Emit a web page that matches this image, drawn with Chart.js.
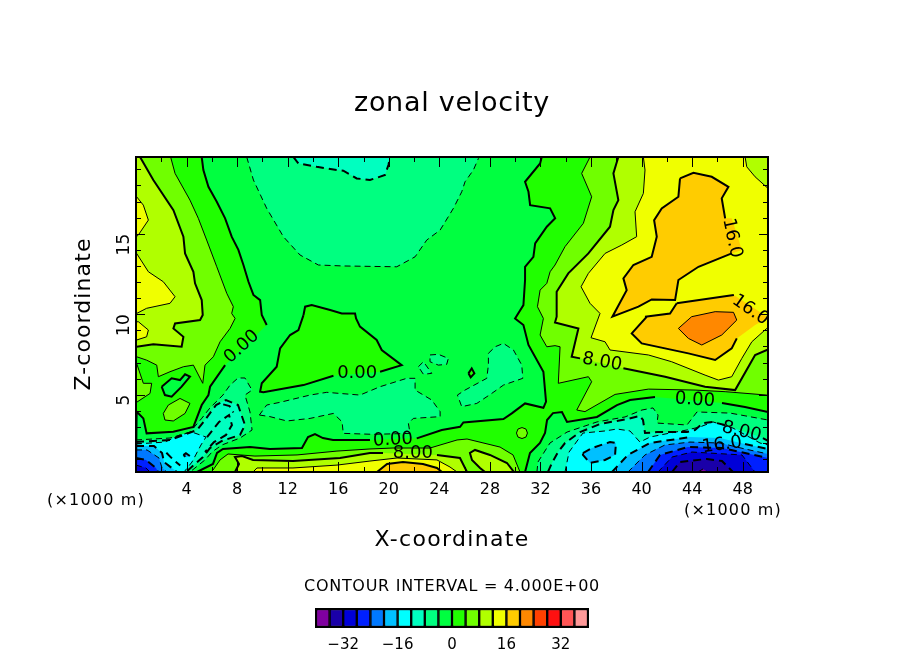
<!DOCTYPE html>
<html>
<head>
<meta charset="utf-8">
<title>zonal velocity</title>
<script src="https://cdn.jsdelivr.net/npm/chart.js@4"></script>
<style>
  body { margin: 0; background: #fff; }
  #plot { position: absolute; left: 0; top: 0; }
  #bar { position: absolute; left: 306px; top: 600px; }
</style>
</head>
<body>
<canvas id="plot" width="904" height="654"></canvas>
<canvas id="bar" width="292" height="54"></canvas>
<script>
// Colour bins, lower edge -40 in steps of 4
const binEdges = [-40, -36, -32, -28, -24, -20, -16, -12, -8, -4, 0, 4, 8, 12, 16, 20, 24, 28, 32, 36];
const binColors = ['#8000a0', '#1a00a8', '#0000d8', '#0020ff', '#0078ff', '#00c0ff', '#00ffff', '#00ffc0', '#00ff80', '#00ff40',
  '#20ff00', '#70ff00', '#b0ff00', '#f0ff00', '#ffcc00', '#ff8800', '#ff4000', '#ff1010', '#ff5555', '#ff9999'];
const barTicks = [-32, -16, 0, 16, 32];
const xTicks = [4, 8, 12, 16, 20, 24, 28, 32, 36, 40, 44, 48];
const zTicks = [5, 10, 15];

// Contours, flat x,z pairs (x in 1000 m)
const plotBase = [0,0.2, 50,0.2, 50,19.77, 0,19.77];

const negCentral = [5.2,19.77, 5.33,18.96, 5.73,17.92, 6.38,17, 7.05,15.96, 7.57,14.82, 8.1,14, 8.5,13.06, 8.9,12.02, 9.29,11.2, 9.82,10.88, 9.95,9.95,
  10.34,9.33, 7.05,6.84, 5.86,5.5, 5.73,4.98, 5.2,4.36, 4.54,3, 2.95,2.7, 0.84,2.6, 0.58,3.53, 0.05,3.95, 0,3.95, 0,0.2, 4.83,0.2,
  6.09,0.7, 6.41,1.38, 6.88,1.63, 9.02,1.75, 10.6,1.63, 13.13,1.69, 13.61,2.37, 14.16,2.56, 14.79,2.31, 15.59,2.19, 18.51,2.19,
  22.21,2.29, 24.19,2.81, 25.64,3.01, 25.9,3.28, 29.07,3.49, 29.73,3.84, 30.78,4.46, 32.23,4.19, 32.44,4.57, 32.23,6.43, 31.05,8.09, 30.65,9.33, 29.99,9.74,
  30.65,10.57, 30.78,12.13, 30.78,12.95, 31.44,13.57, 31.58,14.4, 32.5,15.44, 33.16,15.96, 32.76,16.58, 31.18,16.78, 31.05,17.61, 30.78,18.23, 31.97,19.37, 32.1,19.77];
const negRight = [30.78,0.2, 31.17,1.38, 31.96,2, 32.36,2.62, 32.52,3.43, 32.99,3.86, 33.7,3.93, 34.1,3.31, 36.47,3.62, 38.05,4.36, 39.08,4.67, 41.06,4.86,
  46.36,4.49, 48.18,4.24, 50,3.93, 50,0.2];

const topBlob4 = [8.76,19.77, 9.29,18.34, 10.34,16.58, 11.66,14.82, 12.98,13.68, 14.43,13.06, 16.41,13, 20.63,12.95, 22.08,13.57, 23,14.61, 24.06,15.23, 25.11,16.58, 25.77,17.61, 26.03,18.23, 26.69,18.96, 27.09,19.68, 27.2,19.77];
const topBlob8 = [12.45,19.77, 12.85,19.37, 14.3,19.16, 15.88,18.96, 16.4,18.92, 17.46,18.44, 18.51,18.34, 19.7,18.65, 19.97,19.27, 20.1,19.77];
const midBlob4 = [9.76,3.74, 10.6,3.64, 11.93,3.37, 13.77,3.53, 15.62,3.84, 16.3,3.32, 16.4,2.6, 18.78,2.54, 21.68,2.6, 21.55,3.22, 21.94,3.53, 24.06,3.64, 24.06,3.95, 23.4,4.67, 22.08,5.29, 22.08,6.02, 21.42,6.02, 19.31,5.5, 17.72,4.98, 16.14,5.08, 15.09,5.15, 13.77,4.98, 11.4,4.53, 10.34,4.36];
const rightBlob4 = [27.88,7.57, 28.41,7.98, 29.07,8.19, 29.86,7.78, 30.52,6.84, 30.6,6.02, 29.07,5.6, 28.14,5.08, 26.96,4.46, 25.77,4.26, 25.43,4.98, 26.03,5.29, 27.75,6.02, 27.88,6.84];
const speck4a = [23.26,7.47, 23.92,7.51, 24.71,7.26, 24.58,6.89, 23.92,6.84, 23.26,7.05];
const speck4b = [22.34,6.74, 22.74,7.05, 23.4,6.33, 22.74,6.27];
const island0 = [13.25,9.95, 13.38,10.47, 13.9,10.57, 15.36,10.26, 16.28,10.05, 17.33,10.05, 17.41,9.74, 17.72,9.23, 19.04,8.4, 19.44,7.78, 21.02,6.84, 19.31,6.43, 15.62,6.18, 13.25,5.6, 10.08,5.15, 9.82,5.19, 9.95,5.71, 11.13,6.74, 11.4,7.88, 12.19,8.71, 12.85,9.02];
const dot0 = [26.3,6.33, 26.56,6.64, 26.77,6.33, 26.48,6.08];

// lower left cold corner
const cornerL4 = [0,2.19, 2.69,2.31, 4.27,2.68, 5.22,3.55, 5.85,4.18, 6.88,4.98, 7.44,5.6, 8.07,6.04, 8.62,6.04, 9.18,5.29, 8.62,4.98, 9.02,3.93, 9.18,2.81, 8.23,2.31, 6.8,1.88, 6.01,1.44, 5.46,0.95, 4.27,0.2, 0,0.2];
const cornerL8 = [0,2.06, 2.69,2.19, 4.83,2.81, 5.46,3.43, 6.33,4.36, 7.12,4.67, 8.07,4.36, 8.62,3.12, 8.23,2.5, 6.8,2.13, 5.85,1.69, 5.3,1.13, 3.96,0.2, 0,0.2];
const cornerL12 = [0,1.94, 2.29,2.06, 3.48,2.5, 4.43,2.68, 5.54,2.37, 5.14,1.88, 4.43,0.82, 3.8,0.2, 0,0.2];
const cornerL16 = [0,1.81, 1.42,1.81, 2.06,1.38, 2.22,0.82, 3.24,0.2, 0,0.2];
const cornerL20 = [0,1.57, 0.87,1.57, 1.82,1.07, 2.06,0.45, 2.45,0.2, 0,0.2];
const cornerL24 = [0,1.07, 0.79,0.95, 1.58,0.45, 1.74,0.2, 0,0.2];
const cornerL28 = [0,0.63, 0.79,0.45, 1.11,0.2, 0,0.2];
const knot16 = [3.75,1.25, 3.95,1.37, 4.27,1.19, 3.95,1.12];

// lower right cold corner
const cornerR4 = [31.72,0.2, 31.8,0.82, 32.75,2, 34.1,2.68, 36.47,3.31, 38.69,3.62, 40.03,4.05, 40.9,4.18, 41.3,3.74, 41.22,3.24, 43.59,3.12, 44.38,3.93, 47,3.86, 50,3.43, 50,0.2];
const cornerR8 = [32.59,0.2, 32.91,0.76, 33.39,1.44, 33.94,2, 35.13,2.68, 36.71,3.18, 38.84,3.49, 39.87,3.68, 40.11,3.43, 40.27,2.62, 41.22,2.68, 43.59,2.68, 44.22,2.81, 44.86,3.24, 45.57,3.31, 46.6,3.12, 49.6,2.31, 50,2.13, 50,0.2];
const cornerR12 = [33.94,0.2, 34.26,1.44, 35.36,2.62, 37.1,2.75, 38.05,2.87, 39.08,2.75, 39.87,2.06, 40.66,2.37, 42.25,2.62, 43.59,2.81, 44.62,3, 45.65,3.31, 47.23,2.93, 49.37,2, 50,1.88, 50,0.2];
const patchR16 = [35.36,1.38, 36.08,1.69, 37.5,2.06, 37.97,2, 37.9,1.26, 37.1,0.95, 35.92,0.76, 35.36,1.26];
const cornerR16 = [37.66,0.2, 38.92,1.26, 40.66,2, 43.83,2.37, 46.2,2.31, 48.18,1.94, 50,1.63, 50,0.2];
const cornerR20 = [38.92,0.2, 40.27,1.26, 41.85,1.88, 43.83,2.06, 46.2,2, 48.18,1.63, 50,1.32, 50,0.2];
const cornerR24 = [40.51,0.2, 41.46,1.26, 43.67,1.75, 46.36,1.69, 50,1.07, 50,0.2];
const cornerR28 = [41.3,0.2, 42.41,1.13, 43.99,1.44, 47.94,1.26, 48.97,0.2];
const cornerR32 = [42.41,0.2, 43.04,0.82, 45.17,1.01, 46.36,0.88, 47.23,0.2];
const cornerR36 = [44.46,0.2, 44.86,0.39, 45.25,0.2];

// warm upper left
const left4 = [2.74,19.77, 3.09,18.75, 4.27,17.09, 4.93,15.96, 5.59,14.61, 6.39,12.95, 7.18,11.3, 7.7,10.47, 7.57,10.05, 7.84,9.74, 7.44,9.12, 6.65,8.29, 6.12,7.36, 5.46,6.84, 5.28,5.71, 4.54,6.84, 3.75,6.74, 2.69,6.43, 1.77,6.12, 1.64,6.84, 0.84,7.15, 0.05,7.36, 0,7.36, 0,19.77];
const leftLobe4 = [0.05,6.95, 0.58,5.71, 1.24,5.71, 1.11,5.08, 0.05,4.53, 0,4.53, 0,6.95];
const leftOval4 = [2.16,3.84, 2.56,4.36, 3.48,4.77, 4.27,4.46, 3.88,3.84, 2.95,3.37, 2.29,3.43];
const leftLoop0 = [2.03,5.5, 2.82,6.02, 3.48,5.91, 3.88,6.27, 4.27,6.12, 3.61,5.5, 2.82,4.88, 2.29,4.98];
const left8 = [0.32,19.77, 1.37,18.34, 2.96,16.47, 3.75,14.82, 3.88,13.78, 4.54,12.64, 4.67,11.92, 5.2,10.88, 5.28,9.95, 5.07,9.64, 3.09,9.43, 2.96,9.12, 3.75,8.6, 3.61,7.98, 1.37,8.13, 0.05,7.98, 0,7.98, 0,19.77];
const left12a = [0.05,17.3, 0.58,16.78, 0.98,15.85, 0.18,14.92, 0,14.8, 0,17.3];
const left12b = [0.05,13.78, 0.98,12.64, 2.16,12.02, 3.09,11.09, 2.69,10.68, 0.84,10.37, 0.05,10.05, 0,10.05, 0,13.78];
const left12c = [0.18,9.54, 0.98,9.02, 0.84,8.6, 0.05,8.4, 0,8.4, 0,9.52];

// warm right side
const right4 = [35.92,19.77, 35.26,18.75, 36.05,17.3, 35.39,15.65, 33.94,14.2, 33.15,13.06, 32.76,12.64, 32.5,11.92, 31.97,11.5, 31.76,10.47, 32.23,9.74, 31.97,8.71, 32.5,7.98, 33.15,8.05, 33.55,7.98, 33.41,5.71, 35.79,6.12, 36.05,5.81, 34.87,4.05, 35.52,3.95, 37.9,5.02, 40.54,5.35, 44.23,5.29, 46.61,5.19, 49.9,4.98, 50,4.98, 50,19.77];
const right8 = [38.16,19.77, 37.77,18.75, 38.16,17.09, 37.77,16.47, 37.5,15.44, 35.79,13.78, 34.2,12.54, 33.28,11.4, 33.28,9.85, 33.15,9.49, 35,9.12, 34.47,7.36, 35.13,7.26, 38.56,6.64, 41.86,6.12, 45.02,5.5, 47.4,5.29, 48.98,7.47, 49.9,7.78, 50,7.78, 50,19.77];
const right12 = [40.14,19.77, 40.27,18.96, 40.14,17.51, 39.48,16.37, 39.61,14.82, 38.43,14.3, 37.11,13.78, 35.79,12.54, 35.21,11.71, 35.92,10.68, 36.71,10.05, 36,8.54, 37.11,8.29, 37.5,7.78, 40.54,7.47, 42.38,7.05, 45.02,6.22, 46.08,5.91, 47.13,6.12, 47.93,7.26, 48.72,8.29, 49.9,9.12, 50,9.12, 50,17.82, 48.98,18.54, 48.32,19.16, 48.19,19.77];
const right16a = [43.04,18.44, 44.1,18.79, 45.55,18.54, 46.87,17.92, 46.34,17.2, 46.61,15.96, 47.13,15.96, 47.93,13.99, 47.13,13.78, 44.5,12.95, 42.91,12.13, 42.65,10.88, 40.8,10.92, 39.75,10.47, 37.69,9.85, 38.82,11.5, 38.56,12.23, 39.35,13.06, 40.8,13.57, 41.2,14.82, 40.99,15.85, 41.59,16.58, 42.91,17.3];
const right16b = [42.78,10.68, 46.74,11.13, 47.3,11.2, 49.93,9.85, 50,9.73, 49.9,9.74, 48.98,9.33, 47.53,8.5, 47.13,7.88, 45.82,7.16, 43.7,7.57, 40.01,8.19, 39.22,8.81, 40.41,9.85, 40.27,9.85, 42.25,10.05];
const right20 = [42.91,9.12, 43.96,9.85, 45.82,10.16, 47.27,10.12, 47.53,9.64, 46.34,8.71, 44.76,8.09, 43.7,8.5];

// warm lens along the bottom
const lens4 = [5.93,0.2, 6.09,0.32, 6.65,0.95, 7.28,1.32, 9.41,1.19, 12.74,1.26, 15.9,1.5, 18.51,1.63, 20.33,1.69, 23.26,1.69, 25.4,2.19, 26.19,2.25, 28.8,1.75, 29.83,1.26, 30.22,0.51, 30.38,0.2];
const ring4 = [30.97,2.62, 30.85,2.37, 30.54,2.28, 30.22,2.37, 30.1,2.62, 30.22,2.87, 30.54,2.96, 30.85,2.87];
const lens8 = [7.83,0.2, 8.15,0.7, 7.83,1.13, 8.39,1.19, 9.26,0.95, 12.42,0.88, 16.14,1.07, 18.51,1.38, 19.54,1.38, 23.81,1.26, 25.63,1.07, 26.19,0.2];
const patch8 = [27.61,0.2, 27.22,0.45, 26.58,0.95, 26.42,1.38, 26.82,1.57, 28,1.26, 29.35,0.76, 29.9,0.2];
const lens12 = [9.26,0.2, 9.57,0.45, 12.42,0.45, 15.9,0.63, 18.51,0.88, 20.65,1.07, 23.81,0.95, 24.84,0.51, 25.4,0.2];
const lens16 = [19.07,0.2, 19.86,0.7, 21.12,0.82, 22.7,0.7, 23.81,0.45, 24.2,0.2];

// broken-up dashed contours in the cold corner, lines only
const wiggleA = [5.62,2.37, 6.57,3.31, 7.36,3.74, 7.59,3.12, 7.12,2.5, 6.17,2.06, 5.46,1.44];
const wiggleB = [6.9,4.4, 7.4,4.3, 7.7,3.9];
const wiggleC = [2.4,1.4, 2.9,1, 3.5,0.6];

// painter's order: lower edge of the fill bin, contour value, outline
const layers = [
  [0, 0, plotBase], [-4, 0, negCentral], [-4, 0, negRight],
  [-8, -4, topBlob4], [-12, -8, topBlob8], [-8, -4, midBlob4], [-8, -4, rightBlob4], [-8, -4, speck4a], [-8, -4, speck4b],
  [0, 0, island0], [0, 0, dot0],
  [-8, -4, cornerL4], [-12, -8, cornerL8], [-16, -12, cornerL12], [-20, -16, cornerL16], [-24, -20, cornerL20], [-28, -24, cornerL24], [-32, -28, cornerL28], [-20, -16, knot16],
  [-8, -4, cornerR4], [-12, -8, cornerR8], [-16, -12, cornerR12], [-20, -16, patchR16], [-20, -16, cornerR16], [-24, -20, cornerR20], [-28, -24, cornerR24], [-32, -28, cornerR28], [-36, -32, cornerR32], [-40, -36, cornerR36],
  [4, 4, left4], [4, 4, leftLobe4], [4, 4, leftOval4], [-4, 0, leftLoop0], [8, 8, left8], [12, 12, left12a], [12, 12, left12b], [12, 12, left12c],
  [4, 4, right4], [8, 8, right8], [12, 12, right12], [16, 16, right16a], [16, 16, right16b], [20, 20, right20],
  [4, 4, lens4], [4, 4, ring4], [8, 8, lens8], [8, 8, patch8], [12, 12, lens12], [16, 16, lens16]
];
const openLines = [[-8, wiggleA], [-8, wiggleB], [-16, wiggleC]];

// Contour labels: text, contour value, x, z, angle in degrees
const contourLabels = [
  ['0.00', 0, 8.36, 7.98, -42], ['0.00', 0, 17.5, 6.35, 0], ['0.00', 0, 20.33, 2.19, -3], ['8.00', 8, 21.9, 1.38, 0],
  ['0.00', 0, 44.22, 4.67, 4], ['8.00', 8, 36.87, 7.03, 10], ['16.0', 16, 47.15, 14.73, 78], ['16.0', 16, 48.6, 10.26, 35],
  ['8.00', -8, 47.9, 2.7, 14], ['16.0', -16, 46.36, 1.88, -8]
];

const FONT = '"DejaVu Sans"';

function toPoints(flat) {
  const points = [];
  for (let k = 0; k < flat.length; k += 2) points.push({ x: flat[k], y: flat[k + 1] });
  return points;
}

function lineDataset(points, level, order) {
  const thick = level % 8 === 0;
  return {
    data: points,
    level: level,
    order: order,
    showLine: true,
    tension: 0,
    pointRadius: 0,
    fill: false,
    borderColor: '#000',
    borderWidth: thick ? 2 : 1,
    borderDash: level < 0 ? (thick ? [8, 5] : [6, 4]) : [],
    segment: {
      borderColor: ctx => segmentUnderLabel(ctx) ? 'rgba(0,0,0,0)' : undefined
    }
  };
}

// Fills first, then every contour line on top of them (lowest order is drawn last)
const fillSets = layers.map((layer, i) => {
  const points = toPoints(layer[2]);
  points.push(points[0]);
  return {
    data: points,
    order: 2 * layers.length - i,
    showLine: true,
    tension: 0,
    pointRadius: 0,
    fill: 'shape',
    backgroundColor: binColors[binEdges.indexOf(layer[0])],
    borderWidth: 0
  };
});
const lineSets = layers.slice(1).map((layer, i) => {
  const points = toPoints(layer[2]);
  points.push(points[0]);
  return lineDataset(points, layer[1], layers.length - i);
});
const openSets = openLines.map(item => lineDataset(toPoints(item[1]), item[0], 0));

// Contours are broken where a label sits on them
function segmentUnderLabel(ctx) {
  const chart = ctx.chart;
  const level = chart.data.datasets[ctx.datasetIndex].level;
  const mx = (ctx.p0.x + ctx.p1.x) / 2;
  const my = (ctx.p0.y + ctx.p1.y) / 2;
  return contourLabels.some(l => {
    if (l[1] !== level) return false;
    const dx = chart.scales.x.getPixelForValue(l[2]) - mx;
    const dy = chart.scales.y.getPixelForValue(l[3]) - my;
    return Math.hypot(dx, dy) < 24;
  });
}

function drawFitted(ctx, text, cx, cy, size, width, angle) {
  ctx.save();
  ctx.translate(cx, cy);
  ctx.rotate((angle || 0) * Math.PI / 180);
  ctx.font = size + 'px ' + FONT;
  ctx.textAlign = 'center';
  ctx.textBaseline = 'middle';
  ctx.fillStyle = '#000';
  if (width) {
    ctx.letterSpacing = '0px';
    const spacing = (width - ctx.measureText(text).width) / text.length;
    ctx.letterSpacing = spacing.toFixed(2) + 'px';
  }
  ctx.fillText(text, 0, 0);
  ctx.restore();
}

const framePlugin = {
  id: 'frame',
  afterDatasetsDraw(chart) {
    const { ctx, chartArea: a, scales } = chart;
    ctx.save();
    ctx.strokeStyle = '#000';
    ctx.lineWidth = 1;
    // inward tick marks on all four sides
    ctx.beginPath();
    for (let v = 2; v < 50; v += 2) {
      const px = Math.round(scales.x.getPixelForValue(v)) + 0.5;
      const len = v % 4 === 0 ? 10 : 5;
      ctx.moveTo(px, a.top); ctx.lineTo(px, a.top + len);
      ctx.moveTo(px, a.bottom); ctx.lineTo(px, a.bottom - len);
    }
    for (let v = 1; v < 20; v++) {
      const py = Math.round(scales.y.getPixelForValue(v)) + 0.5;
      const len = v % 5 === 0 ? 9 : 5;
      ctx.moveTo(a.left, py); ctx.lineTo(a.left + len, py);
      ctx.moveTo(a.right, py); ctx.lineTo(a.right - len, py);
    }
    ctx.stroke();
    ctx.lineWidth = 2;
    ctx.strokeRect(a.left, a.top, a.right - a.left, a.bottom - a.top);
    ctx.restore();

    contourLabels.forEach(l => {
      drawFitted(ctx, l[0], scales.x.getPixelForValue(l[2]), scales.y.getPixelForValue(l[3]), 18, 0, l[4]);
    });

    drawFitted(ctx, 'zonal velocity', 452, 104, 27, 196);
    drawFitted(ctx, 'X-coordinate', 452, 540, 22, 155);
    drawFitted(ctx, 'Z-coordinate', 84, 314, 22, 153, -90);
    drawFitted(ctx, '(×1000 m)', 96, 501, 16, 98);
    drawFitted(ctx, '(×1000 m)', 733, 511, 16, 98);
    drawFitted(ctx, 'CONTOUR INTERVAL = 4.000E+00', 452, 587, 16, 296);
  }
};

new Chart(document.getElementById('plot'), {
  type: 'scatter',
  data: { datasets: fillSets.concat(lineSets, openSets) },
  options: {
    responsive: false,
    animation: false,
    layout: { padding: { top: 157, right: 136 } },
    plugins: { legend: { display: false }, tooltip: { enabled: false } },
    scales: {
      x: {
        type: 'linear', min: 0, max: 50,
        grid: { display: false }, border: { display: false },
        afterBuildTicks: s => { s.ticks = xTicks.map(v => ({ value: v })); },
        afterFit: s => { s.height = 182; },
        ticks: { color: '#000', padding: 0, maxRotation: 0, font: { family: FONT, size: 16 } }
      },
      y: {
        type: 'linear', min: 0.2, max: 19.77,
        grid: { display: false }, border: { display: false },
        afterBuildTicks: s => { s.ticks = zTicks.map(v => ({ value: v })); },
        afterFit: s => { s.width = 136; },
        ticks: { color: '#000', padding: 3, minRotation: 90, maxRotation: 90, font: { family: FONT, size: 17 } }
      }
    }
  },
  plugins: [framePlugin]
});

new Chart(document.getElementById('bar'), {
  type: 'bar',
  data: {
    datasets: [{
      data: binEdges.map(e => ({ x: e + 2, y: 1 })),
      backgroundColor: binColors,
      borderColor: '#000',
      borderWidth: 1.5,
      borderSkipped: false,
      barPercentage: 1,
      categoryPercentage: 1
    }]
  },
  options: {
    responsive: false,
    animation: false,
    layout: { padding: { left: 10, right: 10, top: 9 } },
    plugins: { legend: { display: false }, tooltip: { enabled: false } },
    scales: {
      x: {
        type: 'linear', min: -40, max: 40, offset: false,
        grid: { display: false }, border: { display: false },
        afterBuildTicks: s => { s.ticks = barTicks.map(v => ({ value: v })); },
        afterFit: s => { s.height = 27; },
        ticks: {
          color: '#000', padding: 1, maxRotation: 0, font: { family: FONT, size: 15 },
          callback: v => String(v).replace('-', '\u2212')
        }
      },
      y: { display: false, min: 0, max: 1 }
    }
  },
  plugins: [{
    id: 'barFrame',
    afterDatasetsDraw(chart) {
      const { ctx, chartArea: a } = chart;
      ctx.save();
      ctx.lineWidth = 2;
      ctx.strokeStyle = '#000';
      ctx.strokeRect(a.left, a.top, a.right - a.left, a.bottom - a.top);
      ctx.restore();
    }
  }]
});
</script>
</body>
</html>
